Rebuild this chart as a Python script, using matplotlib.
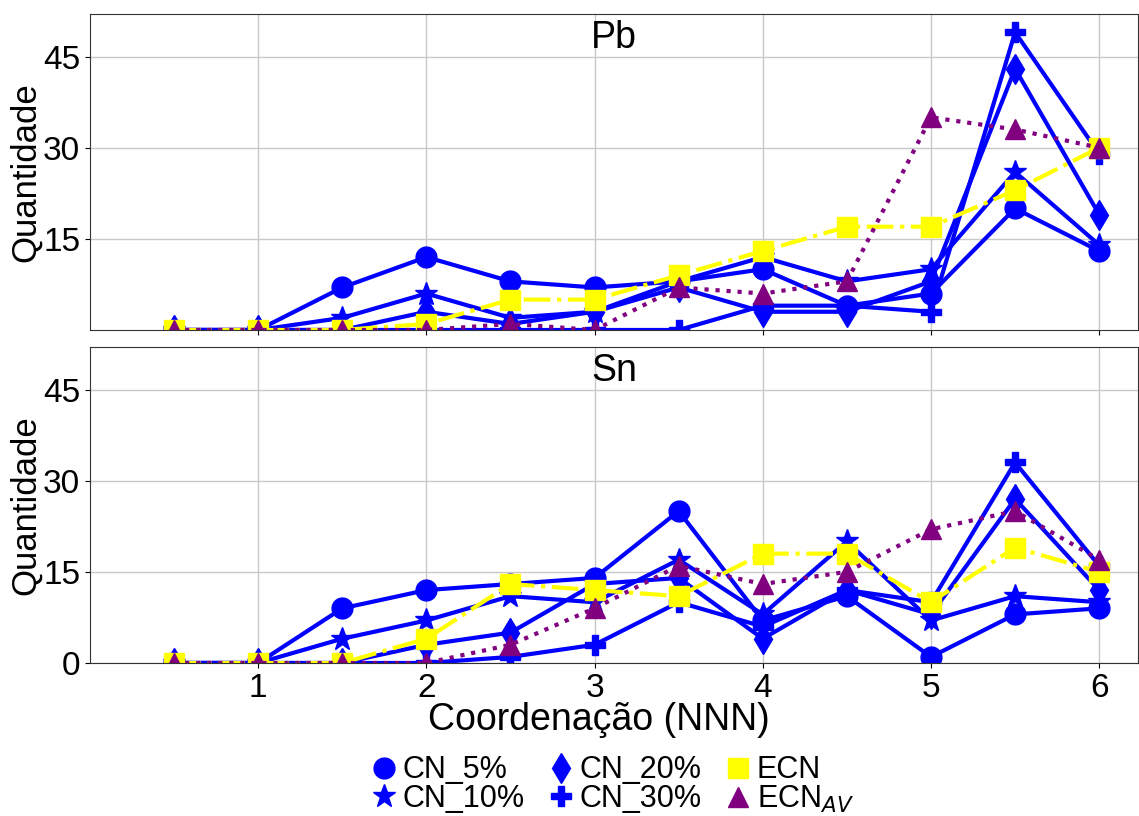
import numpy as np
import matplotlib
matplotlib.use("Agg")
import matplotlib.pyplot as plt
from matplotlib.lines import Line2D

plt.rcParams["font.family"] = ["Liberation Sans", "DejaVu Sans"]

x = [0.5, 1, 1.5, 2, 2.5, 3, 3.5, 4, 4.5, 5, 5.5, 6]

# Pb
pb_cn5 = [0, 0, 7, 12, 8, 7, 8, 10, 4, 6, 20, 13]
pb_cn10 = [0, 0, 2, 6, 2, 3, 8, 12, 8, 10, 26, 14]
pb_cn20 = [0, 0, 0, 3, 1, 3, 7, 3, 3, 8, 43, 19]
pb_cn30 = [0, 0, 0, 0, 0, 0, 0, 4, 4, 3, 49, 29]
pb_ecn = [0, 0, 0, 1, 5, 5, 9, 13, 17, 17, 23, 30]
pb_ecnav = [0, 0, 0, 0, 1, 0, 7, 6, 8, 35, 33, 30]

# Sn
sn_cn5 = [0, 0, 9, 12, 13, 14, 25, 7, 11, 1, 8, 9]
sn_cn10 = [0, 0, 4, 7, 11, 10, 17, 8, 20, 7, 11, 10]
sn_cn20 = [0, 0, 0, 3, 5, 13, 14, 4, 12, 8, 27, 12]
sn_cn30 = [0, 0, 0, 0, 1, 3, 10, 6, 12, 10, 33, 16]
sn_ecn = [0, 0, 0, 4, 13, 12, 11, 18, 18, 10, 19, 15]
sn_ecnav = [0, 0, 0, 0, 3, 9, 16, 13, 15, 22, 25, 17]

labels = ["CN_5%", "CN_10%", "CN_20%", "CN_30%", "ECN", r"ECN$_{AV}$"]
markers = ["o", "*", "d", "P", "s", "^"]
msizes = [15, 17, 15, 15, 15, 15]
colors = ["blue", "blue", "blue", "blue", "yellow", "purple"]
styles = ["-", "-", "-", "-", "-.", ":"]

panels = [
    ("Pb", [pb_cn5, pb_cn10, pb_cn20, pb_cn30, pb_ecn, pb_ecnav]),
    ("Sn", [sn_cn5, sn_cn10, sn_cn20, sn_cn30, sn_ecn, sn_ecnav]),
]

fig = plt.figure(figsize=(11.39, 8.16), dpi=100)
ax_top = fig.add_axes([0.079, 0.5956, 0.92, 0.3872])
ax_bot = fig.add_axes([0.079, 0.1875, 0.92, 0.3872])

for ax, (name, series) in zip([ax_top, ax_bot], panels):
    for vals, lab, m, ms, c, ls in zip(series, labels, markers, msizes, colors, styles):
        ax.plot(x, vals, color=c, linestyle=ls, linewidth=3, marker=m,
                markersize=ms, label=lab)
    ax.set_xlim(0, 6.23)
    ax.set_ylim(0, 52)
    ax.set_xticks([1, 2, 3, 4, 5, 6])
    ax.grid(color="#c8c8c8", linewidth=1)
    ax.set_axisbelow(True)
    ax.set_ylabel("Quantidade", fontsize=25, labelpad=1)
    ax.tick_params(labelsize=24)
    ax.text(0.5, 0.925, name, transform=ax.transAxes, ha="center",
            va="center", fontsize=27)
    for s in ax.spines.values():
        s.set_color("#333333")

ax_top.set_yticks([15, 30, 45])
ax_top.tick_params(labelbottom=False)
ax_bot.set_yticks([0, 15, 30, 45])
ax_bot.set_xlabel("Coordenação (NNN)", fontsize=27)
ax_bot.xaxis.set_label_coords(0.486, -0.125)

handles = [Line2D([], [], color=c, marker=m, markersize=ms, linestyle="none")
           for m, ms, c in zip(markers, msizes, colors)]
fig.legend(handles, labels, loc="upper center", bbox_to_anchor=(0.538, 0.093),
           ncol=3, frameon=False, fontsize=22, handlelength=0.8,
           handletextpad=0.2, columnspacing=0.8, labelspacing=-0.05,
           borderpad=0)

fig.savefig("out.png", dpi=100)
